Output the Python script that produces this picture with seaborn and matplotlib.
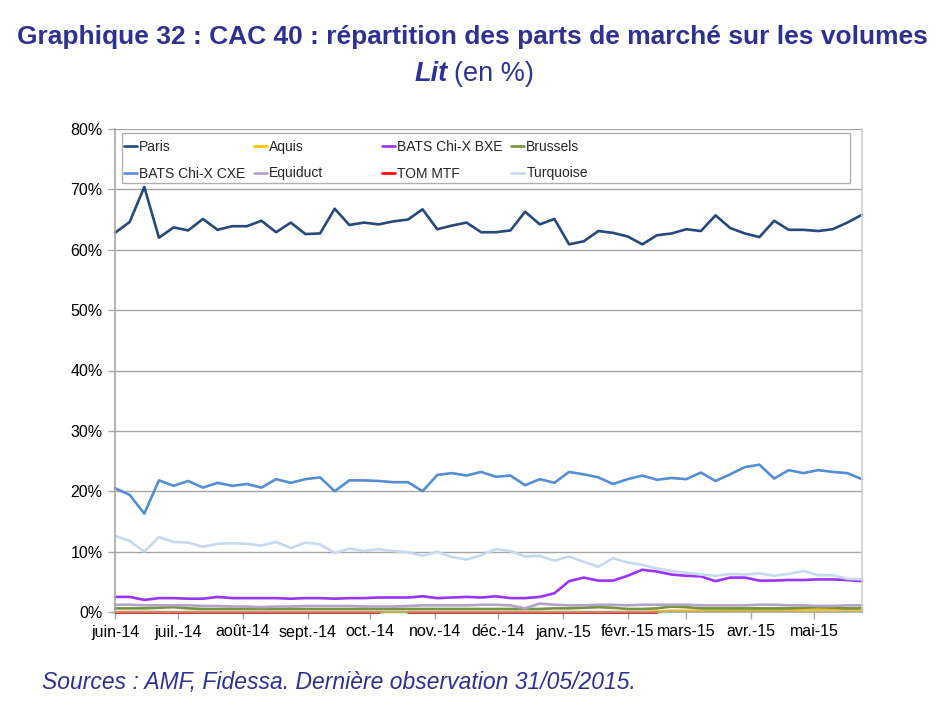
import numpy as np
import pandas as pd
import matplotlib
matplotlib.use("Agg")
import matplotlib.pyplot as plt
from matplotlib.patches import Rectangle
from matplotlib.font_manager import fontManager
import seaborn as sns

# ---------------- data ----------------
dates = pd.date_range("2014-06-01", periods=52, freq="7D")

paris = [62.8, 64.6, 70.4, 62.0, 63.7, 63.2, 65.1, 63.3, 63.9, 63.9, 64.8, 62.9, 64.5,
         62.6, 62.7, 66.8, 64.1, 64.5, 64.2, 64.7, 65.0, 66.7, 63.4, 64.0, 64.5, 62.9,
         62.9, 63.2, 66.3, 64.2, 65.1, 60.9, 61.4, 63.1, 62.8, 62.2, 60.9, 62.4, 62.7,
         63.4, 63.1, 65.7, 63.6, 62.7, 62.1, 64.8, 63.3, 63.3, 63.1, 63.4, 64.5, 65.8]
aquis = [0.0] * 37 + [0.1, 0.2, 0.2, 0.2, 0.2, 0.3, 0.3, 0.3, 0.3, 0.3, 0.3, 0.4, 0.4, 0.4, 0.4]
bxe = [2.5, 2.5, 2.0, 2.3, 2.3, 2.2, 2.2, 2.5, 2.3, 2.3, 2.3, 2.3, 2.2, 2.3, 2.3, 2.2,
       2.3, 2.3, 2.4, 2.4, 2.4, 2.6, 2.3, 2.4, 2.5, 2.4, 2.6, 2.3, 2.3, 2.5, 3.1, 5.1,
       5.7, 5.2, 5.2, 6.0, 7.0, 6.7, 6.2, 6.0, 5.9, 5.1, 5.7, 5.7, 5.2, 5.2, 5.3, 5.3,
       5.4, 5.4, 5.3, 5.1]
brussels = [0.6, 0.6, 0.6, 0.7, 0.8, 0.6, 0.5, 0.5, 0.5, 0.5, 0.5, 0.5, 0.5, 0.5, 0.5,
            0.5, 0.5, 0.5, 0.5, 0.5, 0.5, 0.5, 0.5, 0.5, 0.5, 0.5, 0.5, 0.5, 0.5, 0.5,
            0.6, 0.6, 0.7, 0.8, 0.7, 0.5, 0.5, 0.6, 0.9, 0.8, 0.6, 0.6, 0.6, 0.6, 0.6,
            0.6, 0.6, 0.7, 0.8, 0.7, 0.6, 0.6]
cxe = [20.5, 19.4, 16.3, 21.8, 20.9, 21.7, 20.6, 21.4, 20.9, 21.2, 20.6, 22.0, 21.4,
       22.0, 22.3, 20.0, 21.8, 21.8, 21.7, 21.5, 21.5, 20.0, 22.7, 23.0, 22.6, 23.2,
       22.4, 22.6, 21.0, 22.0, 21.4, 23.2, 22.8, 22.3, 21.2, 22.0, 22.6, 21.9, 22.2,
       22.0, 23.1, 21.7, 22.8, 24.0, 24.4, 22.1, 23.5, 23.0, 23.5, 23.2, 23.0, 22.0]
equiduct = [1.2, 1.2, 1.1, 1.1, 1.1, 1.1, 1.0, 1.0, 0.9, 0.9, 0.8, 0.9, 0.9, 1.0, 1.0,
            1.0, 1.0, 0.9, 0.9, 0.9, 1.0, 1.1, 1.1, 1.1, 1.1, 1.2, 1.2, 1.1, 0.6, 1.4,
            1.2, 1.1, 1.1, 1.2, 1.2, 1.1, 1.2, 1.2, 1.2, 1.2, 1.1, 1.1, 1.1, 1.1, 1.2,
            1.2, 1.1, 1.1, 1.0, 1.0, 1.1, 1.1]
tom = [0.05] * 19 + [np.nan] + [0.05] * 18 + [np.nan] * 14
turquoise = [12.6, 11.8, 10.0, 12.4, 11.6, 11.5, 10.8, 11.3, 11.4, 11.3, 11.0, 11.6,
             10.6, 11.5, 11.2, 9.8, 10.5, 10.1, 10.4, 10.1, 9.9, 9.3, 10.0, 9.1, 8.7,
             9.4, 10.4, 10.1, 9.2, 9.3, 8.5, 9.2, 8.3, 7.5, 8.9, 8.2, 7.8, 7.2, 6.8, 6.5,
             6.2, 6.0, 6.3, 6.2, 6.4, 6.0, 6.3, 6.8, 6.1, 6.1, 5.5, 5.4]

series_names = ["Paris", "Aquis", "BATS Chi-X BXE", "Brussels",
                "BATS Chi-X CXE", "Equiduct", "TOM MTF", "Turquoise"]
series_values = [paris, aquis, bxe, brussels, cxe, equiduct, tom, turquoise]
series_colors = ["#26497c", "#ffc000", "#9933ff", "#77933c",
                 "#558ed5", "#b3a2c7", "#ff0000", "#c6d9f1"]

month_ticks = pd.date_range("2014-06-01", periods=12, freq="MS")
month_labels = ["juin-14", "juil.-14", "août-14", "sept.-14", "oct.-14", "nov.-14",
                "déc.-14", "janv.-15", "févr.-15", "mars-15", "avr.-15", "mai-15"]
y_ticks = [0, 10, 20, 30, 40, 50, 60, 70, 80]
y_labels = [f"{v}%" for v in y_ticks]

title_line1 = "Graphique 32 : CAC 40 : répartition des parts de marché sur les volumes"
title_lit = "Lit"
title_rest = "(en %)"
source_text = "Sources : AMF, Fidessa. Dernière observation 31/05/2015."

# ---------------- long-form table ----------------
rows = []
for name, vals in zip(series_names, series_values):
    seg = 0
    for d, v in zip(dates, vals):
        if v is None or (isinstance(v, float) and np.isnan(v)):
            seg += 1
            continue
        rows.append({"date": d, "value": v, "series": name, "seg": seg})
df = pd.DataFrame(rows)

# ---------------- style ----------------
sns.set_theme(style="white")
names = {f.name for f in fontManager.ttflist}
narrow = "Liberation Sans Narrow" if "Liberation Sans Narrow" in names else "Liberation Sans"
plt.rcParams["font.family"] = ["Liberation Sans", "DejaVu Sans"]

title_color = "#2e3192"
grid_color = "#a6a6a6"

fig = plt.figure(figsize=(9.5, 7.12), dpi=100)
W, H = 950, 712
ax = fig.add_axes([115 / W, (H - 612) / H, (862 - 115) / W, (612 - 129) / H])

palette = dict(zip(series_names, series_colors))
sns.lineplot(data=df, x="date", y="value", hue="series", units="seg", estimator=None,
             hue_order=series_names, palette=palette, linewidth=1.9, ax=ax,
             legend=True)
for ln in ax.lines:
    ln.set_clip_on(False)
    ln.set_solid_joinstyle("round")

ax.set_xlim(dates[0], dates[-1])
ax.set_ylim(0, 80)
ax.set_xticks(month_ticks)
ax.set_xticklabels(month_labels, fontsize=11.5, color="#000000")
ax.set_yticks(y_ticks)
ax.set_yticklabels(y_labels, fontsize=11.5, color="#000000")
ax.set_xlabel("")
ax.set_ylabel("")
ax.grid(axis="y", color=grid_color, linewidth=1.0)
ax.set_axisbelow(True)
ax.spines["top"].set_visible(False)
for side in ["left", "bottom", "right"]:
    ax.spines[side].set_color(grid_color)
    ax.spines[side].set_linewidth(1.2)
ax.spines["right"].set_color("#d0d0d0")
ax.tick_params(axis="both", direction="out", length=5, width=1, color=grid_color,
               pad=4, left=True, bottom=True)

# legend: box + four column legends
handles, labels = ax.get_legend_handles_labels()
ax.get_legend().remove()
hmap = dict(zip(labels, handles))
ax.add_patch(Rectangle(((122 - 115) / 747, (612 - 183) / 483), (850 - 122) / 747,
                       (183 - 133) / 483, transform=ax.transAxes, facecolor="white",
                       edgecolor="#b0b0b0", linewidth=1.0, zorder=3, clip_on=False))
col_x = [124, 254, 382, 511]
columns = [["Paris", "BATS Chi-X CXE"], ["Aquis", "Equiduct"],
           ["BATS Chi-X BXE", "TOM MTF"], ["Brussels", "Turquoise"]]
legs = []
for cx, col in zip(col_x, columns):
    lg = ax.legend([hmap[c] for c in col], col, loc="upper left",
                   bbox_to_anchor=((cx - 115) / 747, (612 - 140) / 483),
                   frameon=False, handlelength=0.95, handletextpad=0.15,
                   labelspacing=0.9, borderaxespad=0, borderpad=0.0,
                   prop={"family": narrow, "size": 10})
    lg.set_zorder(4)
    legs.append(lg)
for lg in legs[:-1]:
    ax.add_artist(lg)

# titles
fig.text(472 / W, 1 - 37 / H, title_line1, ha="center", va="center",
         fontsize=19, fontweight="bold", color=title_color, family=narrow)
fig.text(448 / W, 1 - 74 / H, title_lit, ha="right", va="center", fontsize=19.5,
         fontweight="bold", style="italic", color=title_color, family=narrow)
fig.text(454 / W, 1 - 74 / H, title_rest, ha="left", va="center", fontsize=19.5,
         color=title_color, family=narrow)
fig.text(42 / W, 1 - 683 / H, source_text, ha="left", va="center", fontsize=16.5,
         style="italic", color=title_color, family=narrow)

fig.savefig("out.png", dpi=100, facecolor="white")
